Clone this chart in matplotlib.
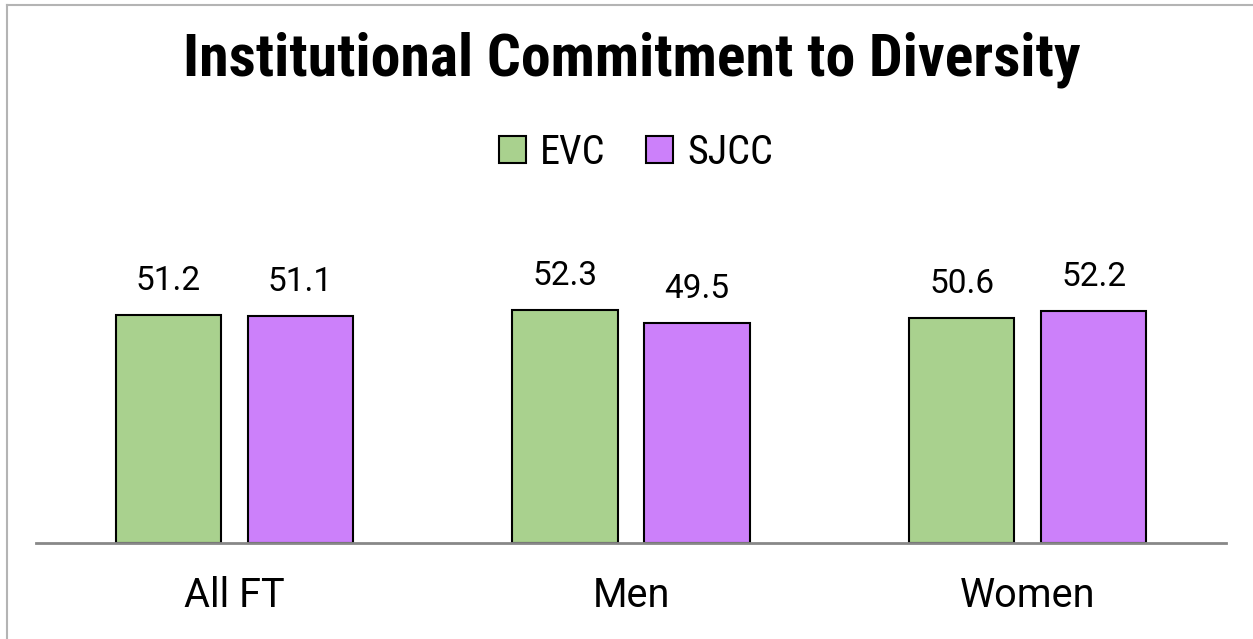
import matplotlib
matplotlib.use("Agg")
import matplotlib.pyplot as plt
from matplotlib.patches import Rectangle

categories = ["All FT", "Men", "Women"]
series_names = ["EVC", "SJCC"]
evc = [51.2, 52.3, 50.6]
sjcc = [51.1, 49.5, 52.2]
colors = ["#a9d18e", "#cc80fa"]

COND = ["Roboto Condensed", "Liberation Sans", "DejaVu Sans"]
REG = ["Roboto", "Liberation Sans", "DejaVu Sans"]

W, H = 1253, 639
fig = plt.figure(figsize=(W / 100, H / 100), dpi=100)
fig.patch.set_facecolor("white")

# outer border
fig.add_artist(plt.Line2D([7 / W, 7 / W], [0, 1 - 5 / H], transform=fig.transFigure, color="#b4b4b4", lw=1.5))
fig.add_artist(plt.Line2D([7 / W, 1], [1 - 5 / H, 1 - 5 / H], transform=fig.transFigure, color="#b4b4b4", lw=1.5))

left, right = 36 / W, 1226 / W
bottom = 1 - 543 / H
top_px = 543 - 60 * 4.45
ax = fig.add_axes([left, bottom, right - left, (543 - top_px) / H])
ax.set_xlim(-0.5, 2.5)
ax.set_ylim(0, 60)
for s in ["top", "right", "left"]:
    ax.spines[s].set_visible(False)
ax.spines["bottom"].set_color("#888888")
ax.spines["bottom"].set_linewidth(2)
ax.set_yticks([])
ax.tick_params(axis="x", length=0, pad=24)
x = list(range(len(categories)))
ax.set_xticks(x)
ax.set_xticklabels(categories, fontsize=28.5, family=REG)

bw = 0.265
off = 0.1665
for vals, c, sgn, name in [(evc, colors[0], -1, series_names[0]), (sjcc, colors[1], 1, series_names[1])]:
    xs = [xi + sgn * off for xi in x]
    ax.bar(xs, vals, width=bw, color=c, edgecolor="black", linewidth=1.5, label=name, zorder=2)
    for xi, v in zip(xs, vals):
        ax.text(xi, v + 4, f"{v:.1f}", ha="center", va="bottom", fontsize=24, family=REG)

fig.text(632 / W, 1 - 60 / H, "Institutional Commitment to Diversity", ha="center", va="center",
         fontsize=43, fontweight="bold", family=COND)

handles = [Rectangle((0, 0), 1, 1, facecolor=colors[0], edgecolor="black", lw=1.5),
           Rectangle((0, 0), 1, 1, facecolor=colors[1], edgecolor="black", lw=1.5)]
fig.legend(handles, series_names, loc="center", bbox_to_anchor=(636 / W, 1 - 152 / H), ncol=2, frameon=False,
           prop={"family": COND, "size": 29}, handlelength=0.66, handleheight=0.66, handletextpad=0.36,
           columnspacing=1.0)

fig.savefig("out.png", dpi=100)
